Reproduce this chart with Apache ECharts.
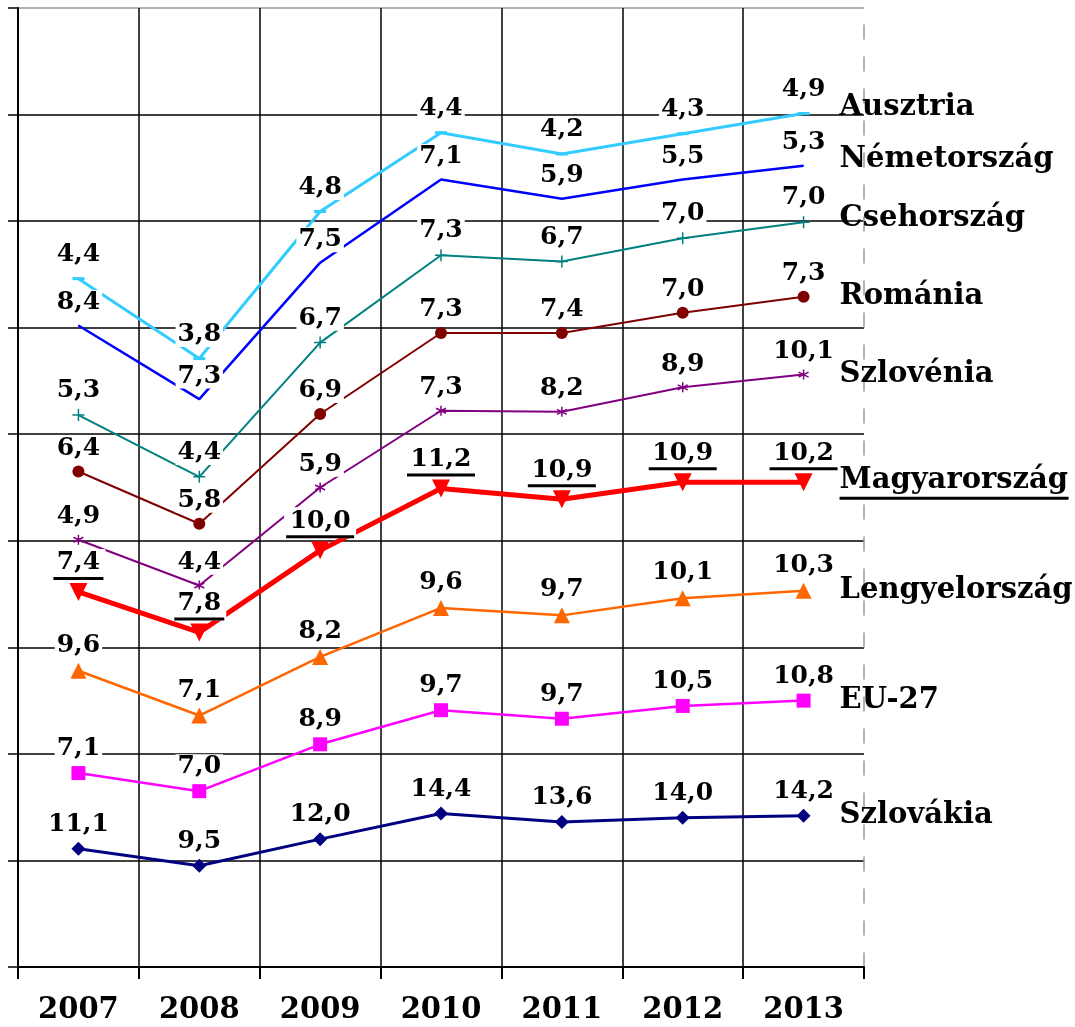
<!DOCTYPE html>
<html>
<head>
<meta charset="utf-8">
<script src="https://cdn.jsdelivr.net/npm/echarts@6/dist/echarts.min.js"></script>
<style>
  html, body { margin: 0; padding: 0; background: #fff; }
  #chart { width: 1075px; height: 1027px; }
</style>
</head>
<body>
<div id="chart"></div>
<script>
// years on the x axis
const years = ['2007', '2008', '2009', '2010', '2011', '2012', '2013'];

// stacked from the bottom up
const szlovakia    = [11.1, 9.5, 12.0, 14.4, 13.6, 14.0, 14.2];
const eu27         = [7.1, 7.0, 8.9, 9.7, 9.7, 10.5, 10.8];
const lengyel      = [9.6, 7.1, 8.2, 9.6, 9.7, 10.1, 10.3];
const magyar       = [7.4, 7.8, 10.0, 11.2, 10.9, 10.9, 10.2];
const szlovenia    = [4.9, 4.4, 5.9, 7.3, 8.2, 8.9, 10.1];
const romania      = [6.4, 5.8, 6.9, 7.3, 7.4, 7.0, 7.3];
const cseh         = [5.3, 4.4, 6.7, 7.3, 6.7, 7.0, 7.0];
const nemet        = [8.4, 7.3, 7.5, 7.1, 5.9, 5.5, 5.3];
const ausztria     = [4.4, 3.8, 4.8, 4.4, 4.2, 4.3, 4.9];

const FONT = '"DejaVu Serif", serif';
const fmt = v => v.toFixed(1).replace('.', ',');

const chart = echarts.init(document.getElementById('chart'));

// build one stacked line
function mk(name, data, color, opts) {
  opts = opts || {};
  const under = !!opts.under;
  return {
    name: name,
    type: 'line',
    stack: 'all',
    data: data,
    symbol: opts.symbol || 'circle',
    symbolSize: opts.size || 1,
    symbolRotate: opts.rotate || 0,
    showSymbol: true,
    animation: false,
    lineStyle: { color: color, width: opts.lw || 2 },
    itemStyle: opts.stroke
      ? { color: color, borderColor: color, borderWidth: 1.5 }
      : { color: color },
    label: {
      show: true,
      position: 'top',
      distance: opts.ld || 5,
      color: '#000',
      fontFamily: FONT,
      fontWeight: 'bold',
      fontSize: 25,
      backgroundColor: '#fff',
      padding: [0, 2],
      formatter: under
        ? p => {
            const s = fmt(p.value);
            return '{v|' + s + '}\n{' + (s.length > 3 ? 'u3' : 'u2') + '|}';
          }
        : p => fmt(p.value),
      rich: under ? {
        v: { fontFamily: FONT, fontWeight: 'bold', fontSize: 25, color: '#000', lineHeight: 28, align: 'center' },
        u2: { height: 3, lineHeight: 3, width: 50, backgroundColor: '#000', align: 'center' },
        u3: { height: 3, lineHeight: 3, width: 68, backgroundColor: '#000', align: 'center' }
      } : undefined
    },
    endLabel: {
      show: true,
      distance: 36,
      color: '#000',
      fontFamily: FONT,
      fontWeight: 'bold',
      fontSize: 29,
      offset: [0, opts.nameOff || 0],
      formatter: under ? p => '{n|' + p.seriesName + '}\n{u|}' : p => p.seriesName,
      rich: under ? {
        n: { fontFamily: FONT, fontWeight: 'bold', fontSize: 29, color: '#000', lineHeight: 32 },
        u: { height: 3, lineHeight: 3, width: 229, backgroundColor: '#000' }
      } : undefined
    },
    emphasis: { disabled: true }
  };
}

const plus = 'path://M5,0L5,10M0,5L10,5';
const aster = 'path://M5,0L5,10M0,2.5L10,7.5M0,7.5L10,2.5';

const hLines = ['#000', '#000', '#000', '#000', '#000', '#000', '#000', '#000', '#000', '#999'];
const vLines = ['#000', '#000', '#000', '#000', '#000', '#000', '#000', 'rgba(0,0,0,0)'];

const option = {
  backgroundColor: '#fff',
  animation: false,
  grid: { left: 18, right: 211, top: 8, bottom: 60 },
  xAxis: {
    type: 'category',
    data: years,
    boundaryGap: true,
    axisLine: { lineStyle: { color: '#000', width: 2 } },
    axisTick: { show: true, length: 12, lineStyle: { color: '#000', width: 2 } },
    splitLine: { show: true, lineStyle: { color: vLines, width: 1.5 } },
    axisLabel: { color: '#000', fontFamily: FONT, fontWeight: 'bold', fontSize: 29, margin: 29 }
  },
  yAxis: [{
    type: 'value',
    min: 0,
    max: 90,
    interval: 10,
    axisLine: { show: true, lineStyle: { color: '#000', width: 2 } },
    axisTick: { show: true, length: 10, lineStyle: { color: '#000', width: 1.5 } },
    axisLabel: { show: false },
    splitLine: { show: true, lineStyle: { color: hLines, width: 1.5 } }
  }, {
    type: 'value',
    min: 0,
    max: 90,
    interval: 10,
    position: 'right',
    axisLine: { show: true, lineStyle: { color: '#999', width: 1.5, type: [14, 18] } },
    axisTick: { show: false },
    axisLabel: { show: false },
    splitLine: { show: false }
  }],
  series: [
    mk('Szlovákia', szlovakia, '#000080', { symbol: 'diamond', size: 14, lw: 3 }),
    mk('EU-27', eu27, '#FF00FF', { symbol: 'rect', size: 14, lw: 2.5 }),
    mk('Lengyelország', lengyel, '#FF6600', { symbol: 'triangle', size: 16, lw: 2.5 }),
    mk('Magyarország', magyar, '#FF0000', { symbol: 'triangle', rotate: 180, size: 18, lw: 5, under: true, ld: 3 }),
    mk('Szlovénia', szlovenia, '#800080', { symbol: aster, size: 10, lw: 2, stroke: true }),
    mk('Románia', romania, '#800000', { symbol: 'circle', size: 12, lw: 2 }),
    mk('Csehország', cseh, '#008080', { symbol: plus, size: 12, lw: 2, stroke: true, nameOff: -4 }),
    mk('Németország', nemet, '#0000FF', { lw: 2.5, nameOff: -6, ld: 10 }),
    mk('Ausztria', ausztria, '#33CCFF', { symbol: 'rect', size: [12, 3], lw: 3, nameOff: -6, ld: 10 })
  ]
};

chart.setOption(option);
</script>
</body>
</html>
